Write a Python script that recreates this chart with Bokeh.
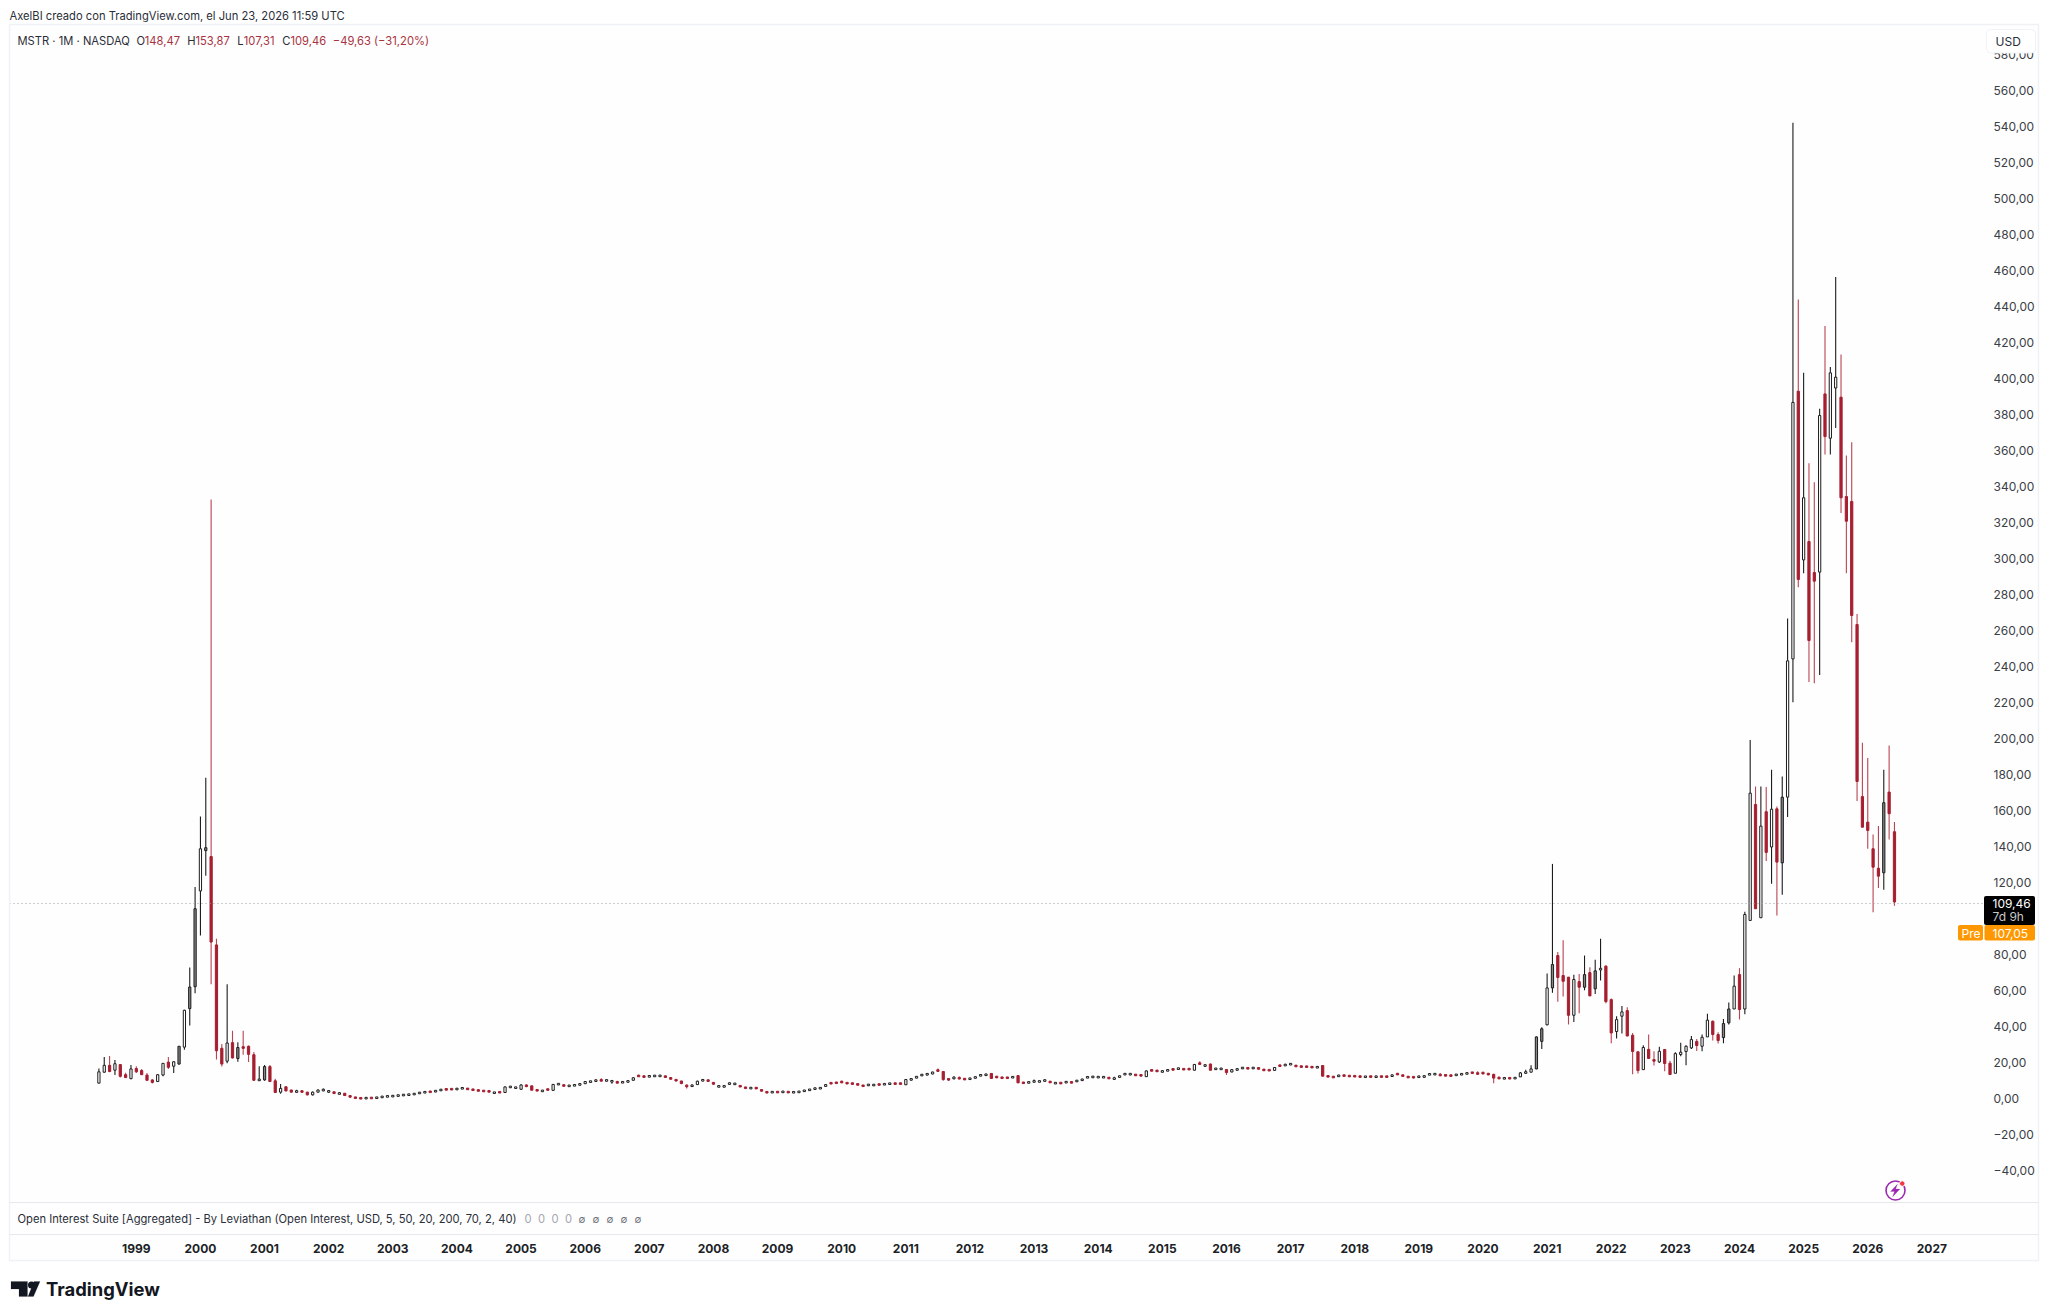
from bokeh.plotting import figure
from bokeh.models import (ColumnDataSource, Range1d, FixedTicker, Label, BoxAnnotation,
                          PolyAnnotation, Span, LinearAxis)
from bokeh.embed import file_html
from bokeh.resources import INLINE

# Months since Jan 1999: first bar Jun 1998, last bar Jun 2026
months = list(range(-7, 330))

opens = [
 8.8,14.9,18.7,16,19.1,13.5,11.3,
 16.9,15.8,13.3,10.6,9.7,13.3,20.5,18.2,19.4,28.8,50.2,62.4,
 115.6,138,134.7,85.6,28.2,21,31.3,22.5,29,29.3,24.6,10.4,
 10.6,18,10.1,3.8,6.8,5,3.8,4.5,3.8,2.3,3.8,4.5,
 4,4,2.9,3.2,1.9,1,.45,.35,.6,.5,.9,1.4,
 1.5,1.7,2.1,2.3,2.5,3,3.7,4.1,3.9,4.8,5.5,5.6,
 5.2,5.9,5.9,5.3,5,4.5,4.4,3.2,3.9,3.6,6.6,6.2,
 5.4,7.8,7.3,5.2,4.2,5.4,4.8,8,7.8,7.1,7.4,7.7,
 8.5,9.5,9.8,10.7,10,9.7,9.5,9,9.4,10.4,13,12.7,
 12.3,12.6,12.7,12.8,11.9,10.9,10,7.4,6.9,8,10.1,10.5,
 9.2,6.7,6.8,8.2,8.1,7.4,6.5,5.9,6.2,5.2,3.9,3.7,
 4,3.8,3.9,3.6,3.7,4.3,4.8,5.5,5.8,7,8.9,9.1,
 9.7,9,8.7,8.2,7.5,7.6,7.6,8.2,8,8.3,8.7,8.7,
 7.9,10.6,11.6,13,13.5,13.9,16.2,15.3,11.3,11.2,11.9,11.3,
 11,11.7,13,13.3,14.2,12.4,12,12,11.8,13,9.2,9,
 9.5,9.6,10.1,9.7,8.7,9,9.1,9.4,9.7,10.3,11.7,12.1,
 12,12,11.9,11.1,12.1,13.5,13.6,13.5,13.3,12.4,16.1,15.8,
 15,15.7,16.7,16.6,16.7,16.8,16,20,18.3,19.4,16.5,16.6,
 16.4,15,16,16.9,17.3,16.9,17.4,16.3,16.2,15.9,18.8,18.5,
 19.2,18.6,18.2,18.2,17.9,17.3,18.6,12.8,12.3,12.7,13.1,12.9,
 12.8,12.6,12.2,12.6,12.3,12.6,12.5,12.5,14,13.2,12.4,12.3,
 12,12.2,13.4,13.6,13.6,13.4,13.2,13.1,13.6,14,14.8,14.5,
 14.8,14.2,13.7,12,11.2,11.8,11.4,12.3,14.4,14.9,16.7,32,
 41.2,61.7,79.7,68.6,67.7,46.5,65.2,62.1,70.2,61.2,72,73.8,
 55.2,37.5,46,49.1,35.4,26.2,16.3,27.6,21.9,20.6,27.5,19.9,
 14.3,24.7,26.4,28.4,32,29.3,34.5,43.2,35.8,34.1,42.3,50,
 69.1,50,99.2,163.6,100.7,159.6,140,161.2,131.2,167.7,244.5,393.2,
 299.5,309.7,292.5,292.7,391.7,367.1,395,389.9,334.7,332,263.6,168,
 153.8,139,128.2,125.7,170.5,148.47,
]
highs = [
 16.9,23.4,23.9,21.6,19.4,14.6,18.9,
 18.2,16.7,14.4,11,13.7,20,23.4,21,29.5,49.6,73,117.8,
 157,178.4,333,89,30.6,63.8,37.9,31.5,37.9,29.7,26.1,18.2,
 18.9,18.9,11.3,8.3,6.8,5.2,5.2,5,4,4.1,5.3,5.8,
 5,4.2,3.9,3.3,2,1.1,.6,.7,.75,1,1.6,1.7,
 1.9,2.2,2.6,2.6,3.2,3.9,4,4.3,5,5.5,5.7,5.8,
 6.1,6.2,6,5.4,5.1,4.7,4.5,3.9,4,6.9,7,6.6,
 8.2,8.2,7.4,5.4,5,5.5,8.3,8.7,8,7.8,8,8.7,
 10,10,10.8,11.5,10.8,10.6,10.2,9.8,10.3,12,13.5,13,
 13.1,13.2,13.2,12.9,12,11,10.1,8.2,8,10.2,11,10.7,
 9.3,7.5,7.4,9.1,8.9,7.5,6.6,6.5,6.6,5.3,4,4.1,
 4.2,4.2,4,4,4.3,5,5.6,6.2,6.4,8.2,9.2,9.5,
 10.2,9.3,9,8.5,7.7,8.2,8,8.3,8.5,8.8,8.9,8.8,
 11,11.4,12.8,13.8,14.2,15.2,16.9,15.5,11.4,12.5,12.5,11.6,
 11.7,12.4,13.5,14,14.4,12.6,12.3,12.2,12.6,13.2,9.4,9.6,
 10.8,10.1,11,9.9,9.1,9.1,9.7,9.6,10.4,11.2,12.5,12.6,
 12.6,12.5,12.1,12.4,12.9,14.3,14.1,13.7,13.4,15.8,16.4,16,
 15.8,16.4,16.9,17.3,16.9,17,19.4,21,19.2,19.7,17.2,17.1,
 16.6,16.6,17,17.7,17.6,17.7,17.6,16.5,16.4,17.8,19,19.6,
 19.9,18.8,18.4,18.3,18.1,18.2,18.7,13,12.5,13.5,13.2,13,
 13,12.8,12.7,12.8,12.7,12.7,12.7,13.6,14.3,13.4,12.6,12.4,
 12.9,13,14.2,14.2,14.4,13.6,13.4,13.9,14.1,14.6,15,15.4,
 15.1,14.4,14,12.5,12,12.1,12,15,16.3,18.8,34.7,39.8,
 69.7,130.6,81.7,88.2,67.7,69,69.5,79.7,73.2,77.3,89,74.3,
 55.8,46,51.7,51,36.7,26.5,29.9,35.8,26.5,29,27.8,21.2,
 26,31.2,29.9,35,33.4,35.8,47.3,43.6,37.1,44.5,53.6,68.6,
 72.7,104,199.5,173.6,173.6,173.3,182.9,162.5,179.2,267,542.3,444.1,
 403.4,353.2,342.7,383.4,429.5,406.6,456.6,413.6,357.5,364.9,269.5,197.9,
 189.5,146.9,151.6,182.9,196.4,153.87,
]
lows = [
 8.8,14.6,14.9,13.3,11.9,11.7,11,
 14.4,13.3,10.1,8.6,9.7,12.6,16.7,14.4,19.2,27.3,40.8,58.8,
 90.8,124,63.8,22,18,19.8,22.5,20.7,24.6,20.5,10.1,10.1,
 10.1,9.7,3.4,2.9,4.2,3.6,3.6,3.6,2,2,3.6,4.3,
 3.4,2.8,2.7,1.7,.8,.3,.3,.3,.45,.45,.8,1.2,
 1.3,1.6,2,2.1,2.4,2.9,3.5,3.8,3.8,4.7,5,5.2,
 5.1,5.8,5.1,4.8,4.3,4.2,3.9,3,3.5,3.5,6.3,5.9,
 5.1,6.5,4.7,4.3,4.1,4.9,4.7,7.8,7,7,7.3,7.6,
 8.4,9.3,9.6,9.9,9.9,8.5,8.6,8.9,9.3,10.3,12.3,12,
 12.1,12.4,12.5,11.7,10.7,9.7,8.2,5.8,6.8,7.9,9.9,9.7,
 7.9,6.6,6.7,8.1,8,6.6,5.8,5.7,5.7,4.2,3.4,3.6,
 3.6,3.7,3.7,3.5,3.6,4.2,4.7,5.4,5.7,6.8,8.4,8.6,
 8.8,8.4,8.3,7.8,7,7.5,7.5,7.7,7.9,8.2,8.3,8.3,
 7.8,10.3,11.5,12.8,13,13.7,15,10.2,10,11,10.8,10.6,
 10.8,11.6,12.7,13.1,11.2,11.7,11.4,11.4,11.7,8.7,8.6,8.9,
 9.4,9.3,9.9,8.9,8.5,8.5,9,8.9,9.6,10.2,11.6,11.9,
 11.7,11.8,11.2,10.5,12,13.4,13.2,13.1,12.9,12.3,15.4,15.2,
 14.8,15.5,16,16.4,16.2,16.2,15.9,19,17.8,15.8,16.3,16.3,
 13.3,14.9,15.9,16.8,16.6,16.7,16.4,15.9,15.7,15.8,18,18.4,
 18.9,18,17.7,17.6,17.4,17.2,12.4,12.2,11.9,12.6,12.8,12.4,
 12.3,12.2,12.1,12.1,12.1,12.1,12.1,12.4,13.5,12.6,11.8,11.4,
 11.9,12,13.3,13.4,12.8,12.7,12.6,13,13.4,13.9,14.2,13.5,
 13.6,13.2,8.7,11,11,11,11.2,12.2,14.2,14.8,16.5,27.8,
 41,59,54,57,41.4,42.8,47.7,60.4,57.1,58.4,65.8,53.2,
 31,33.6,36.4,34.9,13.8,14.1,16.3,22.5,18.6,20,15.4,13.6,
 14.3,23.8,18.8,27.8,26.7,26.5,34.5,32.5,30.8,31,41.4,50,
 44.1,47.1,99.2,105.7,100.7,132.2,119.6,102,113.5,156.6,220.4,284.3,
 292.1,231.6,231,235.6,358,358,372.8,325.5,292.1,253.8,165.5,151,
 139,103.8,117.2,116.2,144.2,107.31,
]
closes = [
 15.1,18.7,15.3,19.6,12.6,11.9,16.7,
 15.1,13.5,10.4,9.2,13.5,19.8,17.6,20.7,29.3,49.3,62.2,105.7,
 139,139.6,87.2,26.8,19.4,31.1,22.8,28.6,28.2,24.8,10.4,10.8,
 18,9.7,3.6,5.9,4.5,3.8,4.5,3.8,2.3,3.8,5,5.4,
 4.4,3,3.2,1.9,1,.45,.35,.6,.55,.9,1.4,1.5,
 1.7,2.1,2.3,2.5,3,3.7,3.8,3.9,4.8,5.2,5.2,5.3,
 5.9,6,5.3,5,4.5,4.4,4.1,3.8,3.6,6.7,6.8,6.4,
 7.8,6.9,4.9,4.5,4.8,5.1,8.1,8.5,7.2,7.5,7.8,8.5,
 9.7,9.8,10.6,10,10.6,10,9,9.6,10.1,11.8,12.6,12.2,
 12.9,13,13,12,11,10,8.6,7.1,7.8,9.9,10.7,9.9,
 8.2,7.3,7.2,8.9,8.7,6.8,6,6.2,5.9,4.4,3.6,3.9,
 3.7,4.1,3.75,3.9,4.2,4.8,5.4,6,6.2,8,8.6,8.9,
 9.2,8.6,8.4,8,7.2,8,7.9,7.9,8.4,8.7,8.4,8.4,
 10.8,11.2,12.6,13.6,14,15,15.4,10.8,10.6,12.2,11.2,10.8,
 11.5,12.2,13.3,13.6,11.4,12,11.6,11.6,12.4,9,8.8,9.4,
 10,9.9,10.4,9.2,8.9,8.7,9.6,9.1,10.3,11,12.4,12.4,
 12.3,12.2,11.4,11.6,12.8,14.1,14,13.2,13,15.6,15.7,15.4,
 15.6,16.1,16.2,17.1,16.4,16.4,19.2,19.3,18.9,16,17,16.9,
 14.7,16.3,16.8,17.5,16.8,17.5,16.6,16,15.8,17.5,18.2,19.2,
 19.5,18.1,17.8,17.7,17.5,18,12.7,12.4,12.1,13,12.9,12.6,
 12.5,12.3,12.5,12.3,12.5,12.3,12.3,13.4,13.7,12.8,12,11.9,
 12.7,12.8,14,14,13,12.9,12.8,13.7,13.9,14.4,14.4,13.8,
 14,13.5,11.6,11.3,11.8,11.3,11.8,14.5,15,16.7,34.5,39,
 61.7,74.7,67.5,65.4,46.5,66.4,62.1,69.1,57.3,71.2,72.3,54.1,
 36.7,44.1,48.4,35,26.4,15.8,28.6,22.5,21,26.5,19.7,13.6,
 25.2,26,29.3,33,29.7,34.3,43.8,35.8,32.5,41.9,50,62.7,
 49.7,102.5,169.9,105.7,151.6,137,161,131.6,167.7,243.4,387,288.6,
 334,254.7,287.7,379.7,368,403.4,401,334,321,268.6,176.4,151,
 149.2,128.8,123.8,164.6,158.5,109.46,
]
gray_up_months = [8, 10, 11, 13, 19, 24, 262, 263, 265, 271, 273, 297, 298, 308, 327]

year_ticks = list(range(0, 337, 12))
year_labels = [str(1999 + i) for i in range(29)]
price_ticks = list(range(-40, 600, 20))
price_labels = [f"{v},00" if v >= 0 else f"\u2212{abs(v)},00" for v in price_ticks]
last_price_line = 108.6

FONT = "Inter"
INK = "#131722"
RED = "#a61f30"
REDWICK = "#b94452"
MIN_BODY = 0.9  # a flat month still shows as a small block

assert len(months) == len(opens) == len(highs) == len(lows) == len(closes), (len(months), len(opens), len(highs), len(lows), len(closes))

up = [c >= o for o, c in zip(opens, closes)]
mids = [(o + c) / 2 for o, c in zip(opens, closes)]
spans = [max(abs(o - c), MIN_BODY) / 2 for o, c in zip(opens, closes)]
data = dict(
    x=months,
    top=[m + s for m, s in zip(mids, spans)],
    bottom=[m - s for m, s in zip(mids, spans)],
    high=highs, low=lows,
    fill=[("#868686" if m in gray_up_months else "#ffffff") if u else RED for u, m in zip(up, months)],
    edge=["#1c1c1c" if u else RED for u in up],
    wick=["#1c1c1c" if u else REDWICK for u in up],
)
src = ColumnDataSource(data)

p = figure(width=2048, height=1316, output_backend="svg", toolbar_location=None,
           x_range=Range1d(-23.73, 345.66), y_range=Range1d(-75.28, 596.94),
           min_border_left=9, min_border_top=24, min_border_right=65, min_border_bottom=82,
           background_fill_color="#fefefe", border_fill_color="#fefefe", outline_line_color=None)
p.grid.visible = False
p.yaxis.visible = False

ax = LinearAxis(ticker=FixedTicker(ticks=price_ticks),
                major_label_overrides=dict(zip(price_ticks, price_labels)),
                major_tick_line_color=None, minor_tick_line_color=None, axis_line_color=None,
                major_label_standoff=4, major_label_text_font=FONT, major_label_text_font_size="12px",
                major_label_text_color="#3b3e46")
p.add_layout(ax, "right")

xa = p.xaxis[0]
xa.ticker = FixedTicker(ticks=year_ticks)
xa.major_label_overrides = dict(zip(year_ticks, year_labels))
xa.major_tick_line_color = None
xa.minor_tick_line_color = None
xa.axis_line_color = "#e6e8ee"
xa.major_label_standoff = 3
xa.major_label_text_font = FONT
xa.major_label_text_font_size = "12px"
xa.major_label_text_font_style = "bold"
xa.major_label_text_color = "#1c1f27"

p.segment("x", "high", "x", "low", source=src, line_color="wick", line_width=1.1)
p.vbar(x="x", top="top", bottom="bottom", width=0.42, source=src, fill_color="fill", line_color="edge", line_width=1)

p.add_layout(Span(location=last_price_line, dimension="width", line_color="#9ea3ab", line_width=1, line_dash="1 3"))

# A transparent sheet over the whole page carries everything outside the plot frame,
# because annotations of the chart figure itself are clipped to its frame.
sheet = figure(width=2048, height=1316, output_backend="svg", toolbar_location=None,
               x_axis_type=None, y_axis_type=None, min_border=0,
               x_range=Range1d(0, 2048), y_range=Range1d(1316, 0),
               background_fill_color=None, border_fill_color=None, outline_line_color=None)
sheet.grid.visible = False
sheet.styles = {"position": "absolute", "left": "0px", "top": "0px"}


def box(l, r, t, b, fill=None, line=None, radius=0, lw=1):
    sheet.add_layout(BoxAnnotation(left=l, right=r, top=t, bottom=b,
                                   left_units="canvas", right_units="canvas", top_units="canvas", bottom_units="canvas",
                                   fill_color=fill, fill_alpha=1 if fill else 0,
                                   line_color=line, line_alpha=1 if line else 0, line_width=lw,
                                   border_radius=radius, level="annotation", editable=False))


def poly(xs, ys, fill):
    sheet.add_layout(PolyAnnotation(xs=xs, ys=ys, xs_units="canvas", ys_units="canvas",
                                    fill_color=fill, fill_alpha=1, line_color=fill, line_width=0.5, level="annotation"))


def text(x, y, s, size=11.2, color=INK, style="normal", align="left", font=FONT):
    sheet.add_layout(Label(x=x, y=y, x_units="canvas", y_units="canvas", text=s, text_font=font,
                           text_font_size=f"{size}px", text_color=color, text_font_style=style,
                           text_align=align, text_baseline="middle", level="annotation"))


# white page round the chart frame
box(0, 2048, 0, 23.5, fill="#ffffff")
box(0, 2048, 1260.5, 1316, fill="#ffffff")
box(0, 8.5, 0, 1316, fill="#ffffff")
box(2038.5, 2048, 0, 1316, fill="#ffffff")

# chart frame and pane separators
box(9, 2038, 24, 1260, line="#eff1f5", lw=1.5)
box(9, 2038, 1202, 1202.01, line="#e6e8ee")
box(9, 2038, 1234, 1234.01, line="#e6e8ee")

# heading lines
text(9, 15, "AxelBI creado con TradingView.com, el Jun 23, 2026 11:59 UTC", 11.2, "#2a2e39")
text(17, 40, "MSTR · 1M · NASDAQ", 11.2, "#2a2e39")
for lx, s in [(136, "O"), (186.7, "H"), (236.7, "L"), (281.7, "C")]:
    text(lx, 40, s, 11.2, "#2a2e39")
for lx, s in [(144.3, "148,47"), (195, "153,87"), (243.3, "107,31"), (290, "109,46"), (332.3, "\u221249,63 (\u221231,20%)")]:
    text(lx, 40, s, 11.2, "#a8323f")

# indicator pane
text(17, 1218, "Open Interest Suite [Aggregated] - By Leviathan (Open Interest, USD, 5, 50, 20, 200, 70, 2, 40)", 11.2, "#2a2e39")
for lx in [524, 537.5, 551, 564.5]:
    text(lx, 1218, "0", 11.2, "#a3a6af")
for lx in [578, 592, 606, 620, 634]:
    text(lx, 1218, "\u2205", 10, "#6a6d78")

# USD button
box(1986, 2035, 29, 52.5, fill="#ffffff", line="#f0f2f6", radius=4, lw=1)
text(1995, 41, "USD", 12, "#2a2e39")

# last price tags
box(1983.5, 2034.5, 895.5, 924.5, fill="#000000", radius=2)
text(1992, 903, "109,46", 12, "#ffffff")
text(1992, 916, "7d 9h", 12, "#c8c8c8")
box(1957.5, 1982.5, 924.5, 940, fill="#ff9800", radius=2)
box(1984, 2034.5, 924.5, 940, fill="#ff9800", radius=2)
text(1961, 932.5, "Pre", 12, "#ffffff")
text(1992, 932.5, "107,05", 12, "#ffffff")

# bolt icon
box(1885.5, 1904.5, 1180.5, 1199.5, line="#9c27b0", radius=10, lw=1.6)
box(1899, 1904.5, 1180.3, 1185.8, fill="#f23645", line="#ffffff", radius=3, lw=1)
poly([1897, 1890, 1894, 1892, 1899.5, 1895.2], [1183.5, 1191, 1191, 1196.5, 1188.5, 1188.5], "#9c27b0")

# TradingView logo
poly([10.5, 27, 27, 18.5, 18.5, 10.5], [1281, 1281, 1296, 1296, 1288.5, 1288.5], "#131722")
box(27.5, 34.5, 1281, 1288, fill="#131722", radius=4)
poly([33.5, 39.5, 33, 27.5], [1281, 1281, 1296, 1296], "#131722")
text(45.5, 1288.5, "TradingView", 18.4, "#131722", "bold")

open("out.html", "w").write(file_html((p, sheet), INLINE))
